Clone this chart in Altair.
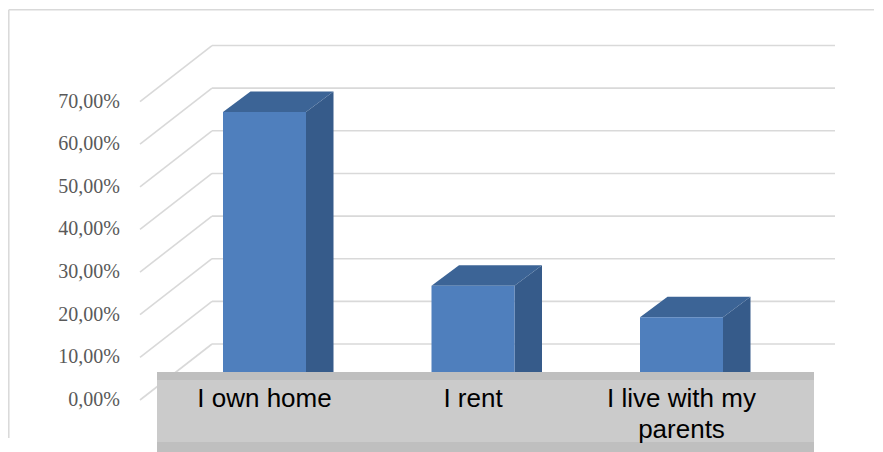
import altair as alt
import pandas as pd

# ---------------- data ----------------
categories = ["I own home", "I rent", "I live with my parents"]
label_lines = [["I own home"], ["I rent"], ["I live with my", "parents"]]
values = [62.96, 22.22, 14.81]
ticks = [0, 10, 20, 30, 40, 50, 60, 70]
tick_labels = ["0,00%", "10,00%", "20,00%", "30,00%", "40,00%", "50,00%", "60,00%", "70,00%"]

# ---------------- layout (page pixels -> data units) ----------------
W, H = 866, 429
PAD_L, PAD_T = 0, 1
X0_PAGE, STEP = 264.5, 208.5      # first bar centre, distance between bars
Y0_PAGE, PX_PCT = 400.0, 4.264    # front-plane 0 %, pixels per percent
PLOT_LEFT, PLOT_TOP = 8 + PAD_L, 8 + PAD_T


def ux(px):
    return (px - X0_PAGE) / STEP


def uy(py):
    return (Y0_PAGE - py) / PX_PCT


xdom = [ux(PLOT_LEFT), ux(PLOT_LEFT + W)]
ydom = [uy(PLOT_TOP + H), uy(PLOT_TOP)]
XS = alt.Scale(domain=xdom, nice=False, zero=False)
YS = alt.Scale(domain=ydom, nice=False, zero=False)

DEPTH_DX = 72 / STEP
DEPTH_DY = 56 / PX_PCT
BAR_HALF = 41.5 / STEP
BAR_DX = 27.5 / STEP
BAR_DY = 20.5 / PX_PCT
BAR_BASE = 19.5 / PX_PCT

FRONT = "#4f7fbd"
SIDE = "#365b8a"
TOP = "#3c6496"
GRID = "#d9d9d9"

# ---------------- gridlines ----------------
grid_rows = []
for t in ticks:
    grid_rows.append(dict(x=ux(140), y=t, x2=ux(212), y2=t + DEPTH_DY))
    grid_rows.append(dict(x=ux(212), y=t + DEPTH_DY, x2=ux(835), y2=t + DEPTH_DY))
grid_df = pd.DataFrame(grid_rows)

grid = alt.Chart(grid_df).mark_rule(color=GRID, strokeWidth=1.6).encode(
    x=alt.X("x:Q", scale=XS, axis=None),
    y=alt.Y("y:Q", scale=YS, axis=None),
    x2="x2:Q",
    y2="y2:Q",
)

# ---------------- bars ----------------
front_rows, side_rows, top_rows = [], [], []
for i, (c, v) in enumerate(zip(categories, values)):
    front_rows.append(dict(cat=c, x=i - BAR_HALF, x2=i + BAR_HALF, y=BAR_BASE - 10, y2=BAR_BASE + v))
    side_rows.append(dict(cat=c, x=i + BAR_HALF, y=BAR_BASE - 10, y2=BAR_BASE + v))
    side_rows.append(dict(cat=c, x=i + BAR_HALF + BAR_DX, y=BAR_BASE - 10 + BAR_DY, y2=BAR_BASE + v + BAR_DY))
    top_rows.append(dict(cat=c, y=BAR_BASE + v, x=i - BAR_HALF, x2=i + BAR_HALF))
    top_rows.append(dict(cat=c, y=BAR_BASE + v + BAR_DY, x=i - BAR_HALF + BAR_DX, x2=i + BAR_HALF + BAR_DX))

side = alt.Chart(pd.DataFrame(side_rows)).mark_area(color=SIDE, orient="vertical").encode(
    x=alt.X("x:Q", scale=XS, axis=None),
    y=alt.Y("y:Q", scale=YS, axis=None),
    y2="y2:Q",
    detail="cat:N",
)
top = alt.Chart(pd.DataFrame(top_rows)).mark_area(color=TOP, orient="horizontal").encode(
    y=alt.Y("y:Q", scale=YS, axis=None),
    x=alt.X("x:Q", scale=XS, axis=None),
    x2="x2:Q",
    detail="cat:N",
)
front = alt.Chart(pd.DataFrame(front_rows)).mark_rect(color=FRONT).encode(
    x=alt.X("x:Q", scale=XS, axis=None),
    x2="x2:Q",
    y=alt.Y("y:Q", scale=YS, axis=None),
    y2="y2:Q",
)

# ---------------- category label box ----------------
box_df = pd.DataFrame([
    dict(x=ux(157), x2=ux(814), y=uy(372), y2=uy(452), c="#bfbfbf"),
    dict(x=ux(157), x2=ux(814), y=uy(380), y2=uy(442), c="#cbcbcb"),
])
box = alt.Chart(box_df).mark_rect().encode(
    x=alt.X("x:Q", scale=XS, axis=None),
    x2="x2:Q",
    y=alt.Y("y:Q", scale=YS, axis=None),
    y2="y2:Q",
    color=alt.Color("c:N", scale=None),
)

cat_df = pd.DataFrame([dict(x=i, y=uy(386), t=lines) for i, lines in enumerate(label_lines)])
cat_text = alt.Chart(cat_df).mark_text(
    font="Liberation Sans", fontSize=26, color="#000000", baseline="top",
    align="center", lineHeight=31,
).encode(
    x=alt.X("x:Q", scale=XS, axis=None),
    y=alt.Y("y:Q", scale=YS, axis=None),
    text="t",
)

# ---------------- y labels ----------------
ylab_df = pd.DataFrame(dict(x=[ux(120)] * len(ticks), y=ticks, t=tick_labels))
ylab = alt.Chart(ylab_df).mark_text(
    font="Liberation Serif", fontSize=20, color="#595959",
    align="right", baseline="middle",
).encode(
    x=alt.X("x:Q", scale=XS, axis=None),
    y=alt.Y("y:Q", scale=YS, axis=None),
    text="t:N",
)

# ---------------- frame ----------------
frame_df = pd.DataFrame([
    dict(x=ux(8.8), x2=ux(8.8), y=uy(9.8), y2=ydom[0]),
    dict(x=ux(8.8), x2=xdom[1], y=uy(9.8), y2=uy(9.8)),
])
frame = alt.Chart(frame_df).mark_rule(color="#d9d9d9", strokeWidth=1.5).encode(
    x=alt.X("x:Q", scale=XS, axis=None),
    x2="x2:Q",
    y=alt.Y("y:Q", scale=YS, axis=None),
    y2="y2:Q",
)

chart = alt.layer(grid, side, top, front, box, cat_text, ylab, frame).properties(
    width=W, height=H,
    padding={"left": PAD_L, "top": PAD_T, "right": 0, "bottom": 0},
    background="white",
).configure_view(stroke=None)

chart.save("out.html", embed_options={"renderer": "svg", "actions": False})
